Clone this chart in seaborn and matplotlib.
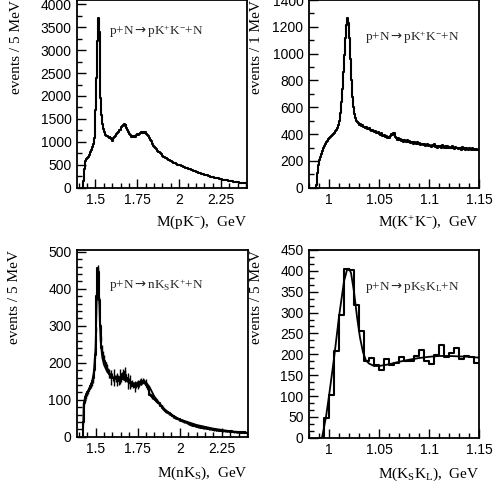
import numpy as np
import pandas as pd
import matplotlib
matplotlib.use('Agg')
import matplotlib.pyplot as plt
import seaborn as sns
from matplotlib.ticker import MultipleLocator, FuncFormatter

sns.set_theme(style='ticks')
plt.rcParams['font.family'] = ['Liberation Sans', 'DejaVu Sans']
plt.rcParams['mathtext.fontset'] = 'custom'
plt.rcParams['mathtext.rm'] = 'Liberation Serif'
plt.rcParams['mathtext.it'] = 'Liberation Serif:italic'
plt.rcParams['mathtext.bf'] = 'Liberation Serif:bold'
plt.rcParams['mathtext.sf'] = 'DejaVu Sans'
SERIF = ['Liberation Serif', 'DejaVu Serif']
ARROW = r'$\mathsf{\rightarrow}$'

# ---- p+N -> pK+K-+N, M(pK-), 5 MeV bins from 1.420
pk_lo, pk_w = 1.420, 0.005
pk_counts = [0,
    150, 420, 530, 580, 620, 650, 680, 710, 740, 770,
    820, 880, 960, 1080, 1300, 1700, 2400, 3200, 3700, 3400,
    2600, 1950, 1580, 1400, 1290, 1220, 1180, 1150, 1120, 1135,
    1100, 1090, 1115, 1080, 1060, 1030, 1080, 1100, 1125, 1150,
    1170, 1200, 1225, 1250, 1270, 1300, 1320, 1345, 1360, 1385,
    1340, 1360, 1300, 1250, 1205, 1180, 1160, 1130, 1110, 1120,
    1100, 1130, 1110, 1140, 1160, 1170, 1150, 1180, 1190, 1205,
    1215, 1190, 1220, 1200, 1210, 1180, 1170, 1150, 1120, 1080,
    1050, 1010, 980, 950, 920, 900, 870, 850, 830, 810,
    790, 770, 750, 730, 710, 690, 680, 670, 650, 640,
    630, 620, 610, 600, 590, 575, 565, 555, 545, 540,
    530, 520, 510, 505, 495, 490, 500, 485, 470, 460,
    455, 450, 440, 430, 425, 420, 410, 405, 400, 395,
    390, 380, 375, 365, 360, 350, 345, 340, 330, 325,
    320, 310, 305, 300, 295, 285, 280, 275, 270, 260,
    255, 250, 245, 240, 235, 230, 225, 220, 215, 210,
    210, 205, 200, 195, 190, 185, 180, 180, 175, 170,
    165, 160, 160, 155, 150, 150, 145, 140, 140, 135,
    135, 130, 130, 125, 120, 120, 115, 115, 110, 110,
    105, 105, 100, 100, 95]

# ---- p+N -> pK+K-+N, M(K+K-), 1 MeV bins from 0.986
kk_lo, kk_w = 0.986, 0.001
kk_counts = [0,
    20, 110, 170, 205, 230, 255, 275, 295, 310, 325,
    340, 350, 365, 375, 380, 385, 395, 400, 410, 420,
    430, 445, 465, 500, 560, 640, 740, 860, 990, 1120,
    1210, 1265, 1230, 1120, 960, 800, 680, 600, 550, 520,
    500, 490, 485, 470, 475, 460, 465, 455, 450, 445,
    450, 440, 435, 445, 430, 425, 430, 420, 415, 425,
    410, 405, 415, 400, 395, 405, 390, 385, 395, 380,
    385, 375, 380, 370, 385, 400, 395, 410, 405, 380,
    375, 360, 370, 355, 365, 350, 360, 345, 355, 350,
    345, 355, 340, 350, 335, 345, 340, 330, 345, 335,
    330, 340, 325, 335, 320, 330, 325, 320, 330, 315,
    320, 325, 310, 320, 315, 305, 320, 310, 325, 305,
    310, 300, 315, 305, 310, 300, 320, 305, 295, 310,
    300, 310, 295, 305, 300, 295, 310, 300, 290, 305,
    295, 300, 290, 300, 295, 285, 305, 290, 295, 285,
    295, 290, 285, 300, 290, 285, 295, 280, 290, 285,
    290, 280, 285]

# ---- p+N -> nKsK+ +N, M(nKs), 5 MeV bins from 1.420
nks_lo, nks_w = 1.420, 0.005
nks_counts = [0,
    40, 90, 100, 108, 115, 120, 125, 130, 135, 138,
    142, 150, 160, 180, 220, 290, 380, 455, 445, 370,
    300, 265, 240, 225, 215, 205, 200, 195, 190, 180,
    175, 170, 165, 160, 165, 158, 160, 155, 162, 158,
    155, 160, 150, 158, 162, 155, 165, 170, 160, 175,
    168, 160, 155, 150, 152, 145, 148, 140, 145, 138,
    142, 135, 140, 138, 145, 142, 140, 148, 145, 150,
    148, 152, 150, 146, 148, 140, 135, 128, 120, 114,
    112, 110, 108, 106, 104, 102, 100, 97, 95, 92,
    90, 87, 84, 82, 79, 76, 73, 71, 69, 67,
    66, 64, 63, 61, 60, 58, 57, 55, 54, 52,
    51, 50, 49, 48, 47, 46, 45, 44, 43, 42,
    41, 40, 39, 38, 37, 36, 35, 34, 33, 32,
    31, 30, 31, 29, 28, 29, 27, 27, 26, 26,
    25, 26, 24, 24, 25, 23, 23, 22, 23, 21,
    21, 22, 20, 21, 20, 19, 20, 19, 18, 19,
    18, 18, 17, 18, 17, 17, 16, 17, 16, 16,
    16, 15, 16, 15, 15, 14, 15, 14, 14, 13,
    14, 13, 13, 12, 13, 12, 12, 13, 11, 12,
    12, 11, 12, 11, 11]
nks_err = [0,
    3, 5, 5, 5, 5, 5, 5, 5, 5, 5,
    5, 5, 6, 6, 7, 8, 9, 10, 10, 9,
    8, 7, 7, 6, 6, 6, 6, 6, 6, 6,
    6, 12, 6, 20, 7, 6, 22, 7, 6, 9,
    18, 6, 9, 7, 20, 6, 9, 12, 7, 6,
    20, 7, 6, 22, 6, 7, 18, 6, 9, 6,
    7, 15, 6, 6, 7, 12, 6, 7, 6, 9,
    6, 7, 6, 6, 7, 6, 6, 5, 5, 5,
    5, 5, 5, 5, 5, 5, 5, 4, 4, 4,
    4, 4, 4, 4, 4, 4, 4, 4, 4, 4,
    3, 3, 3, 3, 3, 3, 3, 3, 3, 3,
    3, 3, 3, 3, 3, 3, 3, 3, 3, 3,
    3, 3, 3, 3, 3, 3, 3, 3, 3, 3,
    2, 2, 2, 2, 2, 2, 2, 2, 2, 2,
    2, 2, 2, 2, 2, 2, 2, 2, 2, 2,
    2, 2, 2, 2, 2, 2, 2, 2, 2, 2,
    2, 2, 2, 2, 2, 2, 2, 2, 2, 2,
    2, 2, 2, 2, 2, 2, 2, 2, 2, 2,
    2, 2, 2, 2, 2, 2, 2, 2, 2, 2,
    2, 2, 2, 2, 2]
nks_fit_x = [1.425, 1.43, 1.44, 1.46, 1.48, 1.49, 1.50, 1.505, 1.51, 1.515, 1.52,
             1.525, 1.53, 1.54, 1.55, 1.57, 1.60, 1.65, 1.70, 1.75, 1.78, 1.80,
             1.82, 1.85, 1.90, 1.95, 2.0, 2.1, 2.2, 2.3, 2.4]
nks_fit_y = [0, 90, 110, 128, 150, 175, 240, 330, 430, 455, 400,
             320, 260, 215, 195, 175, 160, 158, 148, 140, 145, 147,
             135, 108, 78, 60, 47, 32, 22, 15, 11]

# ---- p+N -> pKsKL+N, M(KsKL), 5 MeV bins from 0.990
ksl_lo, ksl_w = 0.990, 0.005
ksl_counts = [0, 48, 103, 208, 293, 405, 402, 317, 255, 185, 192,
              175, 163, 188, 175, 179, 193, 185, 185, 196, 211,
              183, 177, 199, 223, 194, 204, 215, 188, 195, 193, 179]
ksl_fit_x = [0.993, 0.997, 1.0, 1.005, 1.01, 1.015, 1.018, 1.02, 1.022, 1.025,
             1.028, 1.031, 1.034, 1.037, 1.04, 1.045, 1.05, 1.06, 1.07, 1.08,
             1.09, 1.1, 1.11, 1.12, 1.13, 1.14, 1.15]
ksl_fit_y = [0, 50, 100, 190, 290, 375, 402, 405, 395, 350,
             290, 240, 205, 185, 178, 172, 172, 176, 182, 187,
             191, 194, 196, 196, 195, 194, 192]


def hist_step(ax, lo, w, counts):
    n = len(counts)
    edges = lo + w * np.arange(n + 1)
    df = pd.DataFrame({'m': edges, 'n': list(counts) + [counts[-1]]})
    sns.lineplot(data=df, x='m', y='n', drawstyle='steps-post', color='black',
                 linewidth=1.5, ax=ax, estimator=None)
    return lo + w * (np.arange(n) + 0.5)


def style(ax, xlim, ylim, xmaj, xmin, ymaj, ymin, xlabel, ylabel, text, ylx, xly):
    ax.set_xlim(*xlim)
    ax.set_ylim(*ylim)
    ax.xaxis.set_major_locator(MultipleLocator(xmaj))
    ax.xaxis.set_minor_locator(MultipleLocator(xmin))
    ax.yaxis.set_major_locator(MultipleLocator(ymaj))
    ax.yaxis.set_minor_locator(MultipleLocator(ymin))
    ax.xaxis.set_major_formatter(FuncFormatter(lambda v, p: f'{v:g}'))
    ax.tick_params(which='both', direction='in', top=False, right=False,
                   color='black', width=1.0)
    ax.tick_params(which='major', length=6.5, labelsize=10, pad=4, labelcolor='black')
    ax.tick_params(which='minor', length=3.3)
    for s in ax.spines.values():
        s.set_visible(True)
        s.set_color('black')
        s.set_linewidth(1.3)
    ax.set_xlabel(xlabel, loc='right', fontsize=11, family=SERIF, color='black')
    ax.set_ylabel(ylabel, loc='top', fontsize=11, family=SERIF, color='black')
    ax.xaxis.set_label_coords(1.0, xly)
    ax.yaxis.set_label_coords(ylx, 1.0)
    ax.text(*text[1], text[0], transform=ax.transAxes, fontsize=9.5,
            family=SERIF, ha='left', va='center')
    ax.set_facecolor('white')


fig = plt.figure(figsize=(5.0, 4.93), dpi=100)
fig.patch.set_facecolor('white')

ax1 = fig.add_axes([0.154, 0.619, 0.340, 0.381])
hist_step(ax1, pk_lo, pk_w, pk_counts)
style(ax1, (1.39, 2.405), (0, 4090), 0.25, 0.05, 500, 250,
      r'M(pK$^{-}$),  GeV', 'events / 5 MeV',
      ('p+N' + ARROW + r'pK$^{+}$K$^{-}$+N', (0.19, 0.83)), -0.32, -0.135)

ax2 = fig.add_axes([0.618, 0.619, 0.340, 0.381])
hist_step(ax2, kk_lo, kk_w, kk_counts)
style(ax2, (0.98, 1.15), (0, 1400), 0.05, 0.01, 200, 100,
      r'M(K$^{+}$K$^{-}$),  GeV', 'events / 1 MeV',
      ('p+N' + ARROW + r'pK$^{+}$K$^{-}$+N', (0.33, 0.80)), -0.27, -0.135)

ax3 = fig.add_axes([0.154, 0.114, 0.342, 0.379])
c3 = hist_step(ax3, nks_lo, nks_w, nks_counts)
ax3.errorbar(c3, nks_counts, yerr=nks_err, fmt='none', ecolor='black', elinewidth=1.0)
sns.lineplot(x=nks_fit_x, y=nks_fit_y, color='black', linewidth=1.3, ax=ax3)
style(ax3, (1.39, 2.405), (0, 505), 0.25, 0.05, 100, 20,
      r'M(nK$_{\mathrm{S}}$),  GeV', 'events / 5 MeV',
      ('p+N' + ARROW + r'nK$_{\mathrm{S}}$K$^{+}$+N', (0.19, 0.81)), -0.33, -0.15)

ax4 = fig.add_axes([0.618, 0.112, 0.340, 0.381])
hist_step(ax4, ksl_lo, ksl_w, ksl_counts)
sns.lineplot(x=ksl_fit_x, y=ksl_fit_y, color='black', linewidth=1.3, ax=ax4)
style(ax4, (0.98, 1.15), (0, 450), 0.05, 0.01, 50, 50 / 3,
      r'M(K$_{\mathrm{S}}$K$_{\mathrm{L}}$),  GeV', 'events / 5 MeV',
      ('p+N' + ARROW + r'pK$_{\mathrm{S}}$K$_{\mathrm{L}}$+N', (0.33, 0.80)), -0.27, -0.15)

fig.savefig('out.png', dpi=100, facecolor='white')
